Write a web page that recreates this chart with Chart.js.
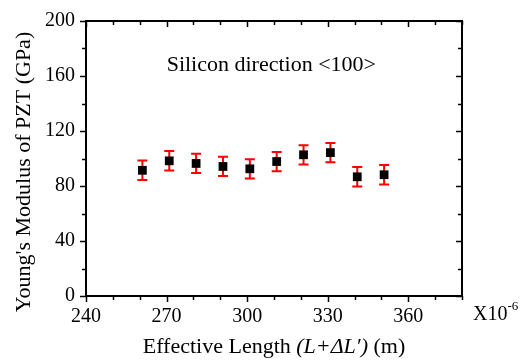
<!DOCTYPE html>
<html>
<head>
<meta charset="utf-8">
<script src="https://cdn.jsdelivr.net/npm/chart.js@4/dist/chart.umd.min.js"></script>
<style>
  html, body { margin: 0; padding: 0; background: #fff; }
  #wrap { width: 522px; height: 361px; }
</style>
</head>
<body>
<div id="wrap"><canvas id="chart_1"></canvas></div>
<script>
// effective length (x1e-6 m), Young's modulus (GPa) and its error
const lengths = [261, 271, 281, 291, 301, 311, 321, 331, 341, 351];
const modulus = [91.4, 98.3, 96.4, 94.2, 92.5, 97.8, 102.7, 104.3, 86.7, 88.2];
const errors = [7.1, 7.1, 7.0, 7.0, 7.0, 7.0, 7.0, 7.0, 7.1, 7.1];
const xMajor = [240, 270, 300, 330, 360];
const yMajor = [0, 40, 80, 120, 160, 200];

const serif = "'Liberation Serif', 'Times New Roman', serif";

// red error bars under the markers
const errorBars = {
  id: "errorBars",
  beforeDatasetsDraw(chart) {
    const { ctx, scales: { x, y } } = chart;
    ctx.save();
    ctx.strokeStyle = "#ff0000";
    ctx.lineWidth = 2;
    lengths.forEach((v, i) => {
      const px = x.getPixelForValue(v);
      const top = y.getPixelForValue(modulus[i] + errors[i]);
      const bot = y.getPixelForValue(modulus[i] - errors[i]);
      ctx.beginPath();
      ctx.moveTo(px, top); ctx.lineTo(px, bot);
      ctx.moveTo(px - 5, top); ctx.lineTo(px + 5, top);
      ctx.moveTo(px - 5, bot); ctx.lineTo(px + 5, bot);
      ctx.stroke();
    });
    ctx.restore();
  },
};

// frame, tick marks on all four sides and the texts
const frame = {
  id: "frame",
  afterDraw(chart) {
    const { ctx, chartArea: a, scales: { x, y } } = chart;
    ctx.save();
    ctx.strokeStyle = "#000";
    ctx.lineWidth = 2;
    ctx.strokeRect(a.left, a.top, a.right - a.left, a.bottom - a.top);
    ctx.lineWidth = 1.5;
    ctx.beginPath();
    for (let v = 240; v <= 380; v += 10) {
      const px = Math.round(x.getPixelForValue(v)) + 0.5;
      const len = xMajor.includes(v) ? 6 : 4;
      ctx.moveTo(px, a.bottom); ctx.lineTo(px, a.bottom + len);
      ctx.moveTo(px, a.top); ctx.lineTo(px, a.top + len);
    }
    for (let v = 0; v <= 200; v += 20) {
      const py = Math.round(y.getPixelForValue(v)) + 0.5;
      const len = yMajor.includes(v) ? 6 : 4;
      ctx.moveTo(a.left, py); ctx.lineTo(a.left - len, py);
      ctx.moveTo(a.right, py); ctx.lineTo(a.right - len, py);
    }
    ctx.stroke();

    ctx.fillStyle = "#000";
    ctx.textBaseline = "alphabetic";

    // annotation
    ctx.font = "22px " + serif;
    ctx.textAlign = "center";
    ctx.fillText("Silicon direction <100>", x.getPixelForValue(309), y.getPixelForValue(164));

    // y title
    ctx.save();
    ctx.font = "22px " + serif;
    ctx.translate(30, 172);
    ctx.rotate(-Math.PI / 2);
    ctx.fillText("Young's Modulus of PZT (GPa)", 0, 0);
    ctx.restore();

    // x title with italic part
    const parts = [
      ["Effective Length ", "22px " + serif],
      ["(L+\u0394L\u2032)", "italic 22px " + serif],
      [" (m)", "22px " + serif],
    ];
    let total = 0;
    parts.forEach(p => { ctx.font = p[1]; total += ctx.measureText(p[0]).width; });
    let cx = 274 - total / 2;
    ctx.textAlign = "left";
    parts.forEach(p => {
      ctx.font = p[1];
      ctx.fillText(p[0], cx, 353);
      cx += ctx.measureText(p[0]).width;
    });

    // scale factor
    ctx.font = "20px " + serif;
    ctx.fillText("X10", a.right + 11, 320);
    const w = ctx.measureText("X10").width;
    ctx.font = "13px " + serif;
    ctx.fillText("-6", a.right + 11 + w, 310);
    ctx.restore();
  },
};

new Chart(document.getElementById("chart_1").getContext("2d"), {
  type: "scatter",
  data: {
    datasets: [
      {
        data: lengths.map((v, i) => ({ x: v, y: modulus[i] })),
        backgroundColor: "#000",
        borderColor: "#000",
        borderWidth: 0,
        pointStyle: "rect",
        pointRadius: 6.2,
        pointHoverRadius: 6.2,
      },
    ],
  },
  options: {
    responsive: true,
    maintainAspectRatio: false,
    animation: false,
    layout: {
      padding: { left: 0, right: 60, top: 21, bottom: 0 },
    },
    plugins: {
      legend: { display: false },
      tooltip: { enabled: false },
    },
    scales: {
      x: {
        type: "linear",
        min: 240,
        max: 380,
        grid: { display: false },
        border: { display: false },
        afterFit(scale) { scale.height = 65; },
        ticks: {
          stepSize: 10,
          autoSkip: false,
          maxRotation: 0,
          padding: 1,
          color: "#000",
          font: { family: serif, size: 20 },
          callback: v => (xMajor.includes(v) ? v : ""),
        },
      },
      y: {
        min: 0,
        max: 200,
        grid: { display: false },
        border: { display: false },
        afterFit(scale) { scale.width = 86; },
        ticks: {
          stepSize: 20,
          autoSkip: false,
          padding: 3,
          color: "#000",
          font: { family: serif, size: 20 },
          callback: v => (yMajor.includes(v) ? v : ""),
        },
      },
    },
  },
  plugins: [errorBars, frame],
});
</script>
</body>
</html>
